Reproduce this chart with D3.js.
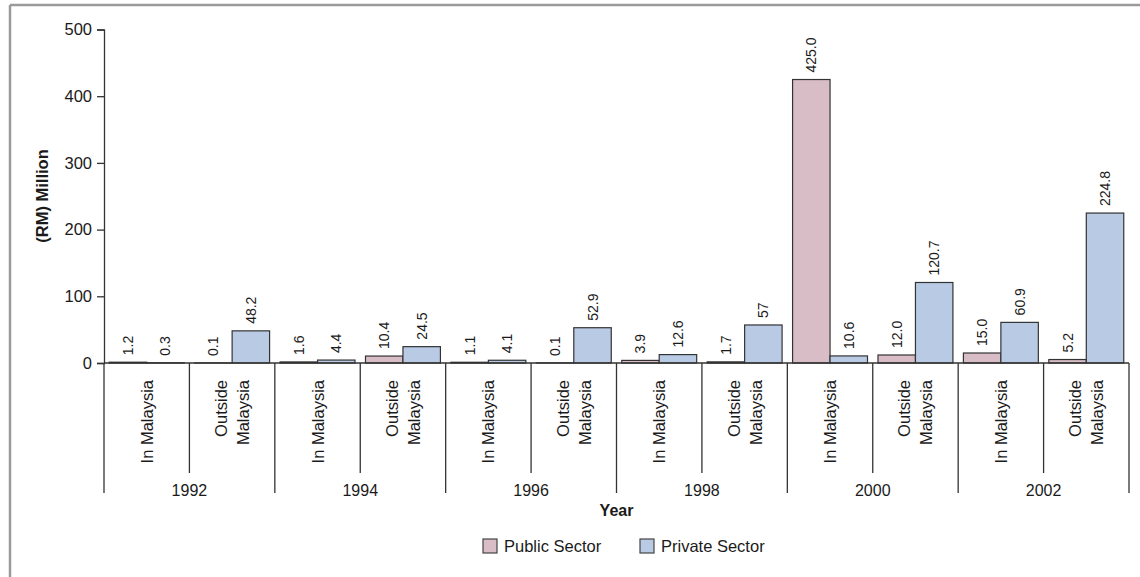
<!DOCTYPE html>
<html>
<head>
<meta charset="utf-8">
<script src="https://cdn.jsdelivr.net/npm/d3@7"></script>
<style>
  html, body { margin: 0; padding: 0; background: #fff; }
  svg { display: block; }
  text { font-family: "Liberation Sans", Arial, sans-serif; fill: #1a1a1a; }
</style>
</head>
<body>
<svg id="chart" width="1140" height="577"></svg>
<script>
// Investment flows by year, split by location and sector (RM million)
const years = ["1992", "1994", "1996", "1998", "2000", "2002"];
const locations = ["In Malaysia", "Outside Malaysia"];
const publicSector  = [1.2, 0.1, 1.6, 10.4, 1.1, 0.1, 3.9, 1.7, 425.0, 12.0, 15.0, 5.2];
const privateSector = [0.3, 48.2, 4.4, 24.5, 4.1, 52.9, 12.6, 57, 10.6, 120.7, 60.9, 224.8];
const publicLabels  = ["1.2", "0.1", "1.6", "10.4", "1.1", "0.1", "3.9", "1.7", "425.0", "12.0", "15.0", "5.2"];
const privateLabels = ["0.3", "48.2", "4.4", "24.5", "4.1", "52.9", "12.6", "57", "10.6", "120.7", "60.9", "224.8"];
const seriesNames = ["Public Sector", "Private Sector"];
const yTicks = [0, 100, 200, 300, 400, 500];

const colors = { "Public Sector": "#d8bdc6", "Private Sector": "#b9cbe4" };

const svg = d3.select("#chart");

// frame lines (top and left)
svg.append("line").attr("x1", 10).attr("x2", 1140).attr("y1", 5).attr("y2", 5)
  .attr("stroke", "#9a9a9a").attr("stroke-width", 2.5);
svg.append("line").attr("x1", 10).attr("x2", 10).attr("y1", 5).attr("y2", 577)
  .attr("stroke", "#9a9a9a").attr("stroke-width", 2.5);

const x0 = 104, x1 = 1129, yTop = 29.5, yBase = 363;

// one band per year/location pair
const cats = [];
years.forEach(yr => locations.forEach(loc => cats.push({ year: yr, loc })));
const catKeys = cats.map((c, i) => i);

const xCat = d3.scaleBand().domain(catKeys).range([x0, x1]).paddingInner(0).paddingOuter(0);
const xSeries = d3.scaleBand().domain(seriesNames).range([0, xCat.bandwidth()]).paddingInner(0).paddingOuter(0.14);
const xYear = d3.scaleBand().domain(years).range([x0, x1]);
const y = d3.scaleLinear().domain([0, 500]).range([yBase, yTop]);

// y axis
const yAxis = svg.append("g").attr("transform", `translate(${x0},0)`)
  .call(d3.axisLeft(y).tickValues(yTicks).tickSize(7).tickPadding(5));
yAxis.select(".domain").attr("stroke", "#333").attr("stroke-width", 1.3);
yAxis.selectAll(".tick line").attr("stroke", "#333").attr("stroke-width", 1.3);
yAxis.selectAll(".tick text").style("font-family", "'Liberation Sans', Arial, sans-serif")
  .style("font-size", "16.5px").attr("fill", "#1a1a1a");

svg.append("text")
  .attr("transform", `translate(48,196) rotate(-90)`)
  .attr("text-anchor", "middle")
  .style("font-size", "16.5px").style("font-weight", "bold")
  .text("(RM) Million");

// bars
const rows = catKeys.map(i => ({
  i,
  values: [
    { s: "Public Sector", v: publicSector[i], label: publicLabels[i] },
    { s: "Private Sector", v: privateSector[i], label: privateLabels[i] }
  ]
}));

const groups = svg.selectAll("g.cat").data(rows).join("g")
  .attr("class", "cat")
  .attr("transform", d => `translate(${xCat(d.i)},0)`);

groups.selectAll("rect").data(d => d.values).join("rect")
  .attr("x", d => xSeries(d.s))
  .attr("y", d => y(d.v))
  .attr("width", xSeries.bandwidth())
  .attr("height", d => yBase - y(d.v))
  .attr("fill", d => colors[d.s])
  .attr("stroke", "#333")
  .attr("stroke-width", 1.2);

groups.selectAll("text.val").data(d => d.values).join("text")
  .attr("class", "val")
  .attr("transform", d => `translate(${xSeries(d.s) + xSeries.bandwidth() / 2 + 5},${y(d.v) - 7}) rotate(-90)`)
  .attr("text-anchor", "start")
  .style("font-size", "14px")
  .text(d => d.label);

// baseline
svg.append("line").attr("x1", x0).attr("x2", x1).attr("y1", yBase).attr("y2", yBase)
  .attr("stroke", "#333").attr("stroke-width", 1.3);

// separators: short between locations, long between years
catKeys.forEach(i => {
  const xs = xCat(i);
  const isYear = i % 2 === 0;
  svg.append("line").attr("x1", xs).attr("x2", xs)
    .attr("y1", yBase).attr("y2", isYear ? 493 : 473)
    .attr("stroke", "#333").attr("stroke-width", 1.3);
});
svg.append("line").attr("x1", x1).attr("x2", x1).attr("y1", yBase).attr("y2", 493)
  .attr("stroke", "#333").attr("stroke-width", 1.3);

// rotated location labels
cats.forEach((c, i) => {
  const cx = xCat(i) + xCat.bandwidth() / 2;
  const lines = c.loc === "In Malaysia" ? ["In Malaysia"] : ["Outside", "Malaysia"];
  const offsets = lines.length === 1 ? [6] : [-5, 17];
  lines.forEach((t, k) => {
    svg.append("text")
      .attr("transform", `translate(${cx + offsets[k]},380) rotate(-90)`)
      .attr("text-anchor", "end")
      .style("font-size", "16.5px")
      .text(t);
  });
});

// year labels
years.forEach(yr => {
  svg.append("text")
    .attr("x", xYear(yr) + xYear.bandwidth() / 2)
    .attr("y", 496)
    .attr("text-anchor", "middle")
    .style("font-size", "16px")
    .text(yr);
});

svg.append("text")
  .attr("x", (x0 + x1) / 2).attr("y", 516)
  .attr("text-anchor", "middle")
  .style("font-size", "16px").style("font-weight", "bold")
  .text("Year");

// legend
const legendX = [483, 640];
seriesNames.forEach((s, k) => {
  svg.append("rect")
    .attr("x", legendX[k]).attr("y", 539).attr("width", 14).attr("height", 14)
    .attr("fill", colors[s]).attr("stroke", "#444").attr("stroke-width", 1.2);
  svg.append("text")
    .attr("x", legendX[k] + 21).attr("y", 552)
    .style("font-size", "16.5px")
    .text(s);
});
</script>
</body>
</html>
